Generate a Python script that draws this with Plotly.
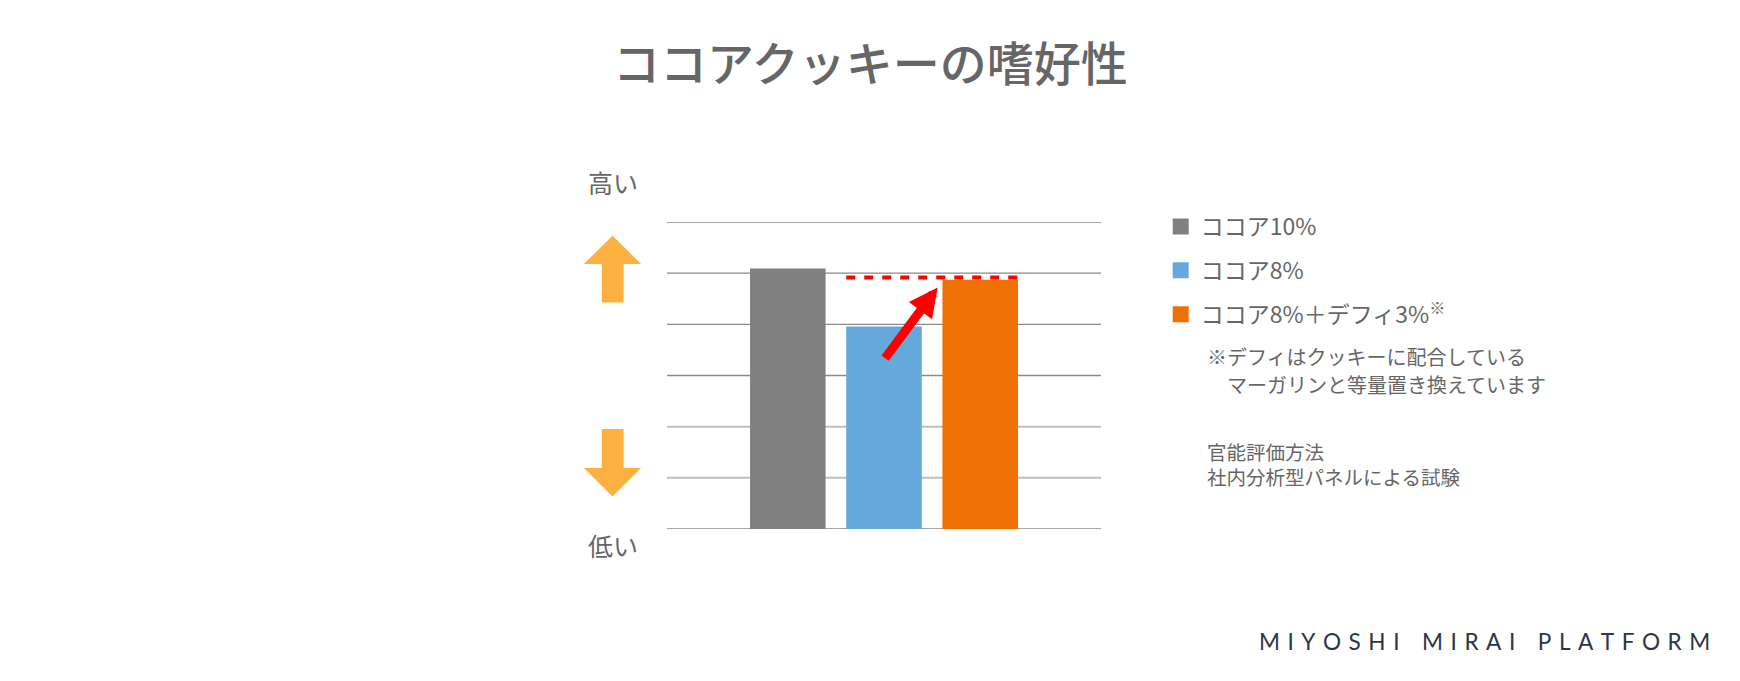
import plotly.graph_objects as go

W, H = 1740, 681
OFF = 8  # page body margin in the browser
PLOT_X0, PLOT_X1 = 667, 1101      # plot area on screen
PLOT_Y0, PLOT_Y1 = 222, 529.3
L, R = PLOT_X0 - OFF, W - (PLOT_X1 - OFF)
T, B = PLOT_Y0 - OFF, H - (PLOT_Y1 - OFF)

category = ["ココアクッキー"]
series_names = ["ココア10%", "ココア8%", "ココア8%＋デフィ3%<sup>※</sup>"]
series_values = [5.09, 3.96, 4.87]
series_colors = ["#808080", "#65A9DB", "#EF7002"]
grid_levels = [0, 1, 2, 3, 4, 5, 6]
grid_light = [1, 2]

BARGAP = 0.335
BARGROUPGAP = 0.215
FONT = "Noto Sans CJK JP"
TEXT_GRAY = "#666666"


def px(x):
    # screen pixel -> paper (horizontal)
    return (x - PLOT_X0) / (PLOT_X1 - PLOT_X0)


def py(y):
    # screen pixel -> paper (vertical)
    return (PLOT_Y1 - y) / (PLOT_Y1 - PLOT_Y0)


fig = go.Figure()

for name, val, col in zip(series_names, series_values, series_colors):
    fig.add_trace(go.Bar(x=category, y=[val], name=name, marker_color=col,
                         marker_line_width=0, showlegend=False))

# legend entries with bigger squares
for i, (name, col) in enumerate(zip(series_names, series_colors)):
    fig.add_trace(go.Scatter(x=[None], y=[None], mode="markers", name=name,
                             legendgroup="g%d" % i,
                             marker=dict(symbol="square", size=16, color=col)))

shapes = []
# gridlines
for lv in grid_levels:
    light = lv in grid_light
    shapes.append(dict(type="line", xref="paper", yref="y", x0=0, x1=1, y0=lv, y1=lv,
                       layer="below",
                       line=dict(color="#BFBFBF" if light else "#8A8A8A",
                                 width=2 if light else 1.3)))

# dashed reference line at the level of the orange bar
slot = (1 - BARGAP) / len(series_values)
half = slot * (1 - BARGROUPGAP) / 2
shapes.append(dict(type="line", xref="x", yref="y", x0=-half, x1=slot + half,
                   ysizemode="pixel", yanchor=series_values[2], y0=2.3, y1=2.3,
                   line=dict(color="#FF0000", width=4, dash="9px,9px")))

# orange up / down arrows on the left
up_pts = [(601.8, 302.7), (601.8, 264), (583.9, 264), (612.5, 235.7),
          (641.1, 264), (623.6, 264), (623.6, 302.7)]
down_pts = [(601.8, 429.3), (623.6, 429.3), (623.6, 468.3), (641.1, 468.3),
            (612.5, 496.7), (583.9, 468.3), (601.8, 468.3)]
for pts in (up_pts, down_pts):
    path = "M " + " L ".join("%.4f,%.4f" % (px(a), py(b)) for a, b in pts) + " Z"
    shapes.append(dict(type="path", xref="paper", yref="paper", path=path,
                       fillcolor="#FBB040", line=dict(width=0)))


def label(x, y, text, size, anchor="left", color=TEXT_GRAY, family=FONT, weight=None):
    f = dict(size=size, color=color, family=family)
    if weight:
        f["weight"] = weight
    return dict(x=px(x), y=py(y), xref="paper", yref="paper", text=text,
                xanchor=anchor, yanchor="middle", align=anchor if anchor != "center" else "center",
                showarrow=False, font=f)


watermark = ("\u2004".join("MIYOSHI") + "\u2004" * 3 + "\u2004".join("MIRAI")
             + "\u2004" * 3 + "\u2004".join("PLATFORM"))

annotations = [
    # red arrow from the blue bar up to the orange level
    dict(x=slot - half - 0.011, y=series_values[2] - 0.15, xref="x", yref="y",
         ax=0, ay=series_values[1] - 0.65, axref="x", ayref="y", text="",
         showarrow=True, arrowhead=2, arrowsize=0.64, arrowwidth=9,
         arrowcolor="#FF0000", standoff=0),
    label(870, 60, "ココアクッキーの嗜好性", 47, anchor="center", weight=500),
    label(612.7, 181.7, "高い", 25, anchor="center"),
    label(612.7, 545, "低い", 25, anchor="center"),
    label(1205, 356.7, "※デフィはクッキーに配合している", 20),
    label(1225, 385, "マーガリンと等量置き換えています", 20),
    label(1205, 464.2, "官能評価方法<br>社内分析型パネルによる試験", 19.5),
    label(1256.7, 642, watermark, 22.6, color="#2D3642", family="Lato"),
]

fig.update_layout(
    width=W, height=H, autosize=False,
    margin=dict(l=L, r=R, t=T, b=B),
    paper_bgcolor="white", plot_bgcolor="white",
    barmode="group", bargap=BARGAP, bargroupgap=BARGROUPGAP,
    xaxis=dict(type="category", range=[-0.5, 0.5], showticklabels=False,
               showgrid=False, zeroline=False, showline=False, fixedrange=True),
    yaxis=dict(range=[0, 6], showticklabels=False, showgrid=False,
               zeroline=False, showline=False, fixedrange=True),
    legend=dict(x=px(1160.7), y=py(205), xanchor="left", yanchor="top",
                font=dict(size=23, color=TEXT_GRAY, family=FONT),
                tracegroupgap=11, bgcolor="rgba(0,0,0,0)"),
    shapes=shapes,
    annotations=annotations,
)

fig.write_html("out.html")
